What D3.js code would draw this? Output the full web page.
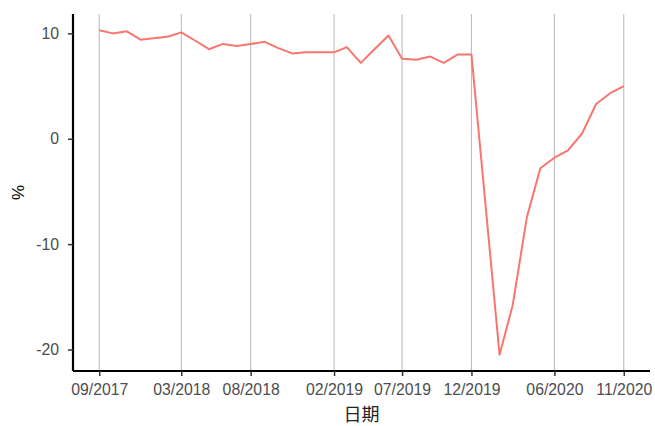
<!DOCTYPE html>
<html>
<head>
<meta charset="utf-8">
<script src="https://cdn.jsdelivr.net/npm/d3@7"></script>
<style>
  body { margin: 0; background: #fff; }
  svg { display: block; font-family: Arial, "Liberation Sans", sans-serif; }
</style>
</head>
<body>
<svg id="chart" width="655" height="426"></svg>
<script>
// Monthly values (month start), January missing in 2018-2020
const months = [
  '2017-09', '2017-10', '2017-11', '2017-12',
  '2018-02', '2018-03', '2018-04', '2018-05', '2018-06', '2018-07', '2018-08',
  '2018-09', '2018-10', '2018-11', '2018-12',
  '2019-02', '2019-03', '2019-04', '2019-05', '2019-06', '2019-07', '2019-08',
  '2019-09', '2019-10', '2019-11', '2019-12',
  '2020-02', '2020-03', '2020-04', '2020-05', '2020-06', '2020-07', '2020-08',
  '2020-09', '2020-10', '2020-11'
];
const values = [
  10.3, 10.0, 10.2, 9.4,
  9.7, 10.1, 9.3, 8.5, 9.0, 8.8, 9.0,
  9.2, 8.6, 8.1, 8.2,
  8.2, 8.7, 7.2, 8.5, 9.8, 7.6, 7.5,
  7.8, 7.2, 8.0, 8.0,
  -20.5, -15.8, -7.5, -2.8, -1.8, -1.1, 0.5,
  3.3, 4.3, 5.0
];
const xTickMonths = ['2017-09', '2018-03', '2018-08', '2019-02', '2019-07', '2019-12', '2020-06', '2020-11'];
const yTicks = [-20, -10, 0, 10];

const parseMonth = d3.timeParse('%Y-%m');
const data = months.map((m, i) => ({ date: parseMonth(m), value: values[i] }));

const svg = d3.select('#chart');
const plot = { left: 73, right: 650, top: 14, bottom: 371 };

// ggplot-style 5% expansion on both axes
const xExtent = d3.extent(data, d => d.date);
const xPad = (xExtent[1] - xExtent[0]) * 0.05;
const x = d3.scaleTime()
  .domain([new Date(+xExtent[0] - xPad), new Date(+xExtent[1] + xPad)])
  .range([plot.left, plot.right]);

const yExtent = d3.extent(data, d => d.value);
const yPad = (yExtent[1] - yExtent[0]) * 0.05;
const y = d3.scaleLinear()
  .domain([yExtent[0] - yPad, yExtent[1] + yPad])
  .range([plot.bottom, plot.top]);

const xTicks = xTickMonths.map(parseMonth);

// Vertical grid lines
svg.append('g')
  .selectAll('line')
  .data(xTicks)
  .join('line')
  .attr('x1', d => x(d))
  .attr('x2', d => x(d))
  .attr('y1', plot.top)
  .attr('y2', plot.bottom)
  .attr('stroke', '#bebebe')
  .attr('stroke-width', 1.1);

// Series line
svg.append('path')
  .datum(data)
  .attr('fill', 'none')
  .attr('stroke', '#F8766D')
  .attr('stroke-width', 2)
  .attr('stroke-linejoin', 'round')
  .attr('d', d3.line().x(d => x(d.date)).y(d => y(d.value)));

// Axes
const xAxis = svg.append('g')
  .attr('transform', `translate(0,${plot.bottom})`)
  .call(d3.axisBottom(x).tickValues(xTicks).tickFormat(d3.timeFormat('%m/%Y')).tickSize(5).tickPadding(8));

// plain hyphen for negatives, like the original
const yAxis = svg.append('g')
  .attr('transform', `translate(${plot.left},0)`)
  .call(d3.axisLeft(y).tickValues(yTicks).tickFormat(d => String(d)).tickSize(5).tickPadding(9));

[xAxis, yAxis].forEach(g => {
  g.select('.domain').attr('stroke', '#000').attr('stroke-width', 2.2);
  g.selectAll('.tick line').attr('stroke', '#333').attr('stroke-width', 1.5);
  g.selectAll('.tick text')
    .attr('fill', '#4d4d4d')
    .style('font-size', '15.8px')
    .style('font-family', 'Arial, "Liberation Sans", sans-serif');
});

// Remove the outer tick stubs on the domain path
xAxis.select('.domain').attr('d', `M${plot.left},0H${plot.right}`);
yAxis.select('.domain').attr('d', `M0,${plot.top}V${plot.bottom}`);

// Axis titles
svg.append('text')
  .attr('x', (plot.left + plot.right) / 2)
  .attr('y', 421)
  .attr('text-anchor', 'middle')
  .attr('fill', '#222')
  .style('font-size', '18px')
  .style('font-family', '"Noto Sans CJK SC", sans-serif')
  .text('日期');

svg.append('text')
  .attr('transform', `translate(24,${(plot.top + plot.bottom) / 2}) rotate(-90)`)
  .attr('text-anchor', 'middle')
  .attr('fill', '#000')
  .style('font-size', '17px')
  .text('%');
</script>
</body>
</html>
